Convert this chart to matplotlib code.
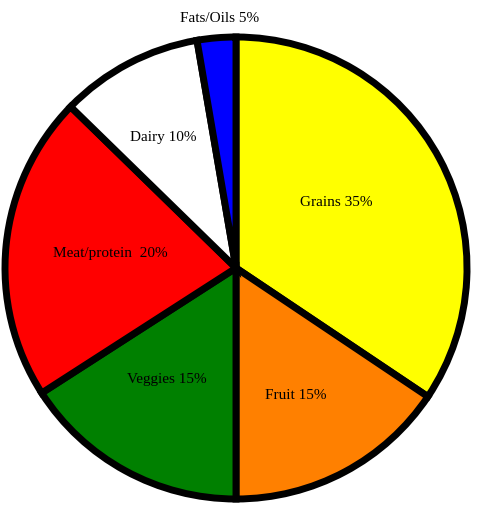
import matplotlib
matplotlib.use("Agg")
import matplotlib.pyplot as plt

# Data
categories = ["Grains", "Fruit", "Veggies", "Meat/protein", "Dairy", "Fats/Oils"]
label_texts = ["Grains 35%", "Fruit 15%", "Veggies 15%", "Meat/protein  20%", "Dairy 10%", "Fats/Oils 5%"]
# slice sizes as drawn in the picture (percent of the circle)
drawn_sizes = [34.4, 15.6, 15.9, 21.4, 10.0, 2.7]

# Styles / layout
colors = ["#FFFF00", "#FF8000", "#008000", "#FF0000", "#FFFFFF", "#0000FF"]
W, H = 479, 510
center = (236, H - 269)
radius = 231
label_pos = [(336, 203), (296, 396), (166.5, 380), (110, 253), (163, 138), (219.5, 19)]

fig = plt.figure(figsize=(W / 100, H / 100), dpi=100)
ax = fig.add_axes([0, 0, 1, 1])
ax.pie(drawn_sizes, colors=colors, startangle=90, counterclock=False,
       center=center, radius=radius,
       wedgeprops=dict(edgecolor="black", linewidth=5, joinstyle="miter"))
ax.set_xlim(0, W)
ax.set_ylim(0, H)
ax.set_aspect("equal")
ax.axis("off")

for txt, (x, y) in zip(label_texts, label_pos):
    ax.text(x, H - y, txt, ha="center", va="center", fontsize=11,
            family=["Liberation Serif", "DejaVu Serif"], color="black")

fig.savefig("out.png", dpi=100, facecolor="white")
